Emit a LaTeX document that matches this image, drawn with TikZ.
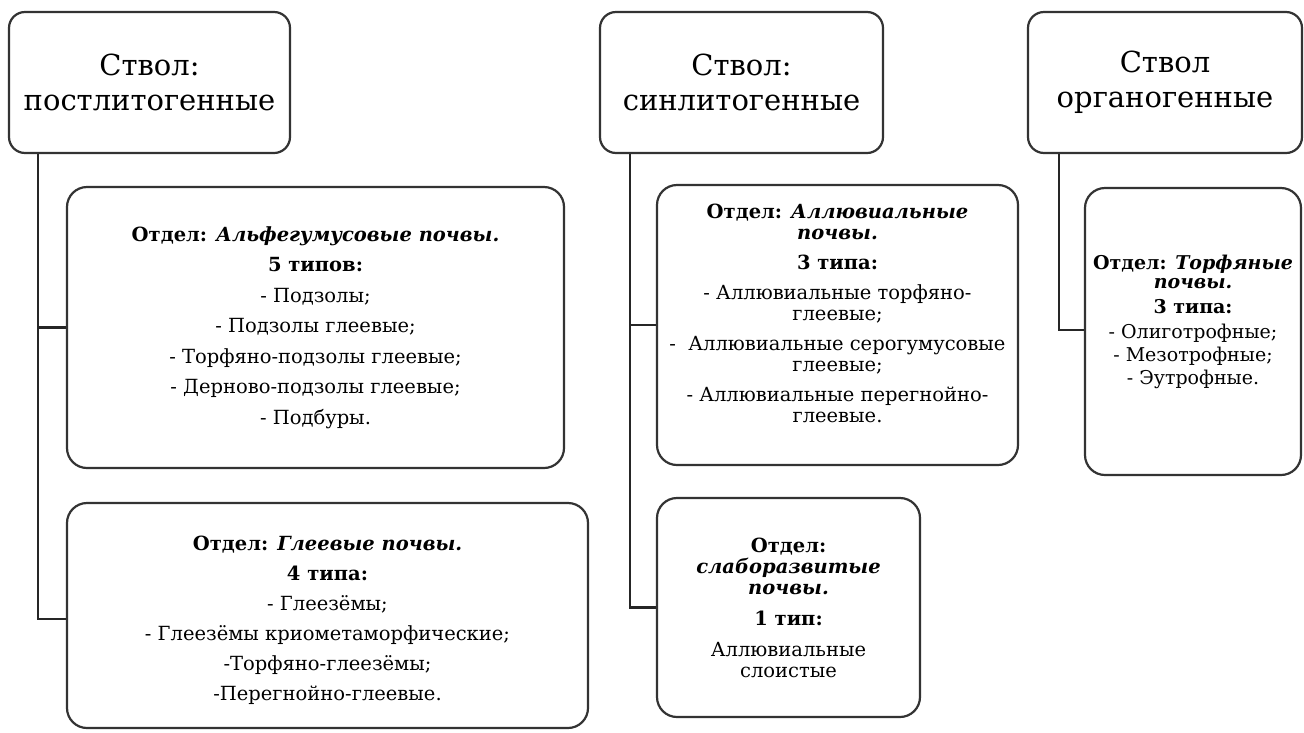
\documentclass[tikz,border=0pt]{standalone}
\usepackage{fontspec}
\setmainfont{DejaVu Serif}
\tikzset{
  hdr/.style={draw=black!80, line width=2.2pt, rounded corners=16pt, fill=white,
    align=center, font=\fontsize{29}{35}\selectfont, inner sep=0pt},
  box/.style={draw=black!80, line width=2.2pt, rounded corners=20pt, fill=white, inner sep=0pt},
  txt/.style={align=center, font=\fontsize{19.5}{21}\selectfont, inner sep=0pt},
  tighttxt/.style={txt, font=\fontsize{19}{19}\selectfont},
  link/.style={draw=black!85, line width=2.2pt}
}
\begin{document}
\begin{tikzpicture}[x=1pt,y=-1pt]
\useasboundingbox (0,0) rectangle (1304,732);

\node[hdr, minimum width=281pt, minimum height=141pt] (h1) at (149.5,82.5) {Ствол:\\постлитогенные};
\node[hdr, minimum width=283pt, minimum height=141pt] (h2) at (741.5,82.5) {Ствол:\\синлитогенные};
\node[hdr, minimum width=274pt, minimum height=141pt] (h3) at (1165,82.5) {Ствол\\органогенные};

\node[box, minimum width=497pt, minimum height=281pt] (b2) at (315.5,327.5) {};
\node[txt] (t2) at (b2.center)
 {\textbf{Отдел: \textit{Альфегумусовые почвы.}}\\[9.5pt]
  \textbf{5 типов:}\\[9.5pt]
  - Подзолы;\\[9.5pt]
  - Подзолы глеевые;\\[9.5pt]
  - Торфяно-подзолы глеевые;\\[9.5pt]
  - Дерново-подзолы глеевые;\\[9.5pt]
  - Подбуры.};

\node[box, minimum width=521pt, minimum height=225pt] (b3) at (327.5,615.5) {};
\node[txt] (t3) at ([yshift=-5pt]b3.center)
 {\textbf{Отдел: \textit{Глеевые почвы.}}\\[9pt]
  \textbf{4 типа:}\\[9pt]
  - Глеезёмы;\\[9pt]
  - Глеезёмы криометаморфические;\\[9pt]
  -Торфяно-глеезёмы;\\[9pt]
  -Перегнойно-глеевые.};

\node[box, minimum width=361pt, minimum height=280pt] (b4) at (837.5,325) {};
\node[txt] (t4) at ([yshift=12pt]b4.center)
 {\textbf{Отдел: \textit{Аллювиальные}}\\
  \textbf{\textit{почвы.}}\\[9pt]
  \textbf{3 типа:}\\[9pt]
  - Аллювиальные торфяно-\\
  глеевые;\\[9pt]
  -~ Аллювиальные серогумусовые\\
  глеевые;\\[9pt]
  - Аллювиальные перегнойно-\\
  глеевые.};

\node[box, minimum width=263pt, minimum height=219pt] (b5) at (788.5,607.5) {};
\node[txt] (t5) at (b5.center)
 {\textbf{Отдел:}\\
  \textbf{\textit{слаборазвитые}}\\
  \textbf{\textit{почвы.}}\\[10pt]
  \textbf{1 тип:}\\[10pt]
  Аллювиальные\\
  слоистые};

\node[box, minimum width=216pt, minimum height=287pt] (b6) at (1193,331.5) {};
\node[tighttxt] (t6) at ([yshift=10pt]b6.center)
 {\textbf{Отдел: \textit{Торфяные}}\\
  \textbf{\textit{почвы.}}\\[6pt]
  \textbf{3 типа:}\\[6pt]
  - Олиготрофные;\\[4pt]
  - Мезотрофные;\\[4pt]
  - Эутрофные.};

\draw[link] ([xshift=30pt]h1.south west) |- (b2.west);
\draw[link] ([xshift=30pt]h1.south west) |- ([yshift=-3.5pt]b3.west);
\draw[link] ([xshift=31pt]h2.south west) |- (b4.west);
\draw[link] ([xshift=31pt]h2.south west) |- (b5.west);
\draw[link] ([xshift=32pt]h3.south west) |- ([yshift=1.5pt]b6.west);
\end{tikzpicture}
\end{document}
